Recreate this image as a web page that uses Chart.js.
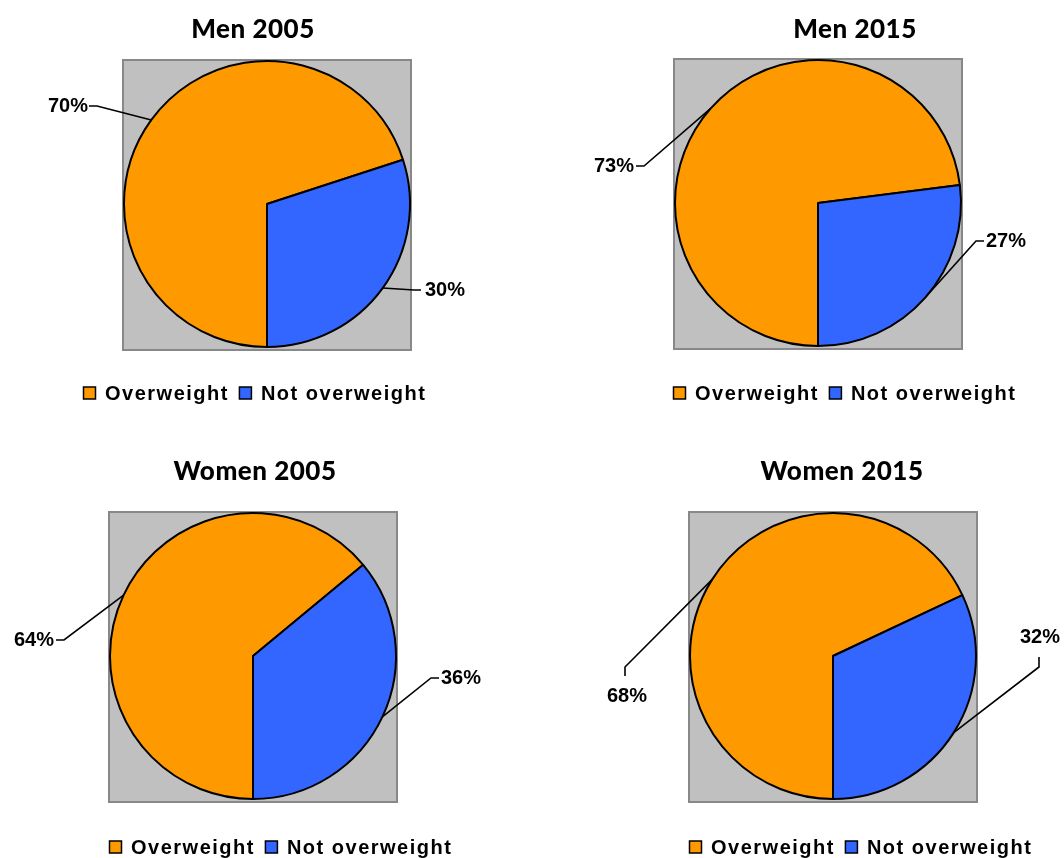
<!DOCTYPE html>
<html><head><meta charset="utf-8">
<script src="https://cdn.jsdelivr.net/npm/chart.js@4"></script>
<style>
html,body{margin:0;padding:0;background:#fff;}
#wrap{position:relative;width:1064px;height:858px;overflow:hidden;}
canvas{position:absolute;}
</style></head><body><div id="wrap">
<canvas id="c0" width="532" height="429" style="left:0;top:0"></canvas>
<canvas id="c1" width="532" height="429" style="left:532px;top:0"></canvas>
<canvas id="c2" width="532" height="429" style="left:0;top:429px"></canvas>
<canvas id="c3" width="532" height="429" style="left:532px;top:429px"></canvas>
</div>
<script>
// ---- data ----
const categories = ['Overweight', 'Not overweight'];
const titles = ['Men 2005', 'Men 2015', 'Women 2005', 'Women 2015'];
const men2005 = [70, 30];
const men2015 = [73, 27];
const women2005 = [64, 36];
const women2015 = [68, 32];
const seriesList = [men2005, men2015, women2005, women2015];

// ---- styles ----
const sliceColors = ['#FF9900', '#3366FF'];
const W = 532, H = 429;

// ---- layout (local canvas coordinates) ----
const layouts = [
  { area:[123,60,411,348], box:[123,60,411,350], title:[253,38], legend:[83,393],
    labels:[ {elbow:[97,106], end:[89,106], text:[88,106], align:'right'},
             {elbow:[414,290], end:[421,290], text:[425,290], align:'left'} ] },
  { area:[142,59,430,347], box:[142,59,430,349], title:[323,38], legend:[141,393],
    labels:[ {elbow:[112,166], end:[104,166], text:[102,166], align:'right'},
             {elbow:[444,241], end:[452,241], text:[454,241], align:'left'} ] },
  { area:[109,83,397,371], box:[109,83,397,373], title:[255,51], legend:[109,418],
    labels:[ {elbow:[64,211], end:[56,211], text:[54,211], align:'right'},
             {elbow:[431,249], end:[439,249], text:[441,249], align:'left'} ] },
  { area:[157,83,445,371], box:[157,83,445,373], title:[310,51], legend:[157,418],
    labels:[ {elbow:[93,238], end:[93,247], text:[95,267], align:'center'},
             {elbow:[507,238], end:[507,228], text:[508,208], align:'center'} ] }
];

function makeDecor(idx) {
  const L = layouts[idx];
  return {
    id: 'decor' + idx,
    beforeDraw(chart) {
      const ctx = chart.ctx;
      ctx.save();
      const [x0,y0,x1,y1] = L.box;
      ctx.fillStyle = '#C0C0C0';
      ctx.fillRect(x0, y0, x1-x0, y1-y0);
      ctx.strokeStyle = '#888888';
      ctx.lineWidth = 2;
      ctx.strokeRect(x0, y0, x1-x0, y1-y0);
      ctx.fillStyle = '#000';
      ctx.font = '900 26px Lato';
      ctx.letterSpacing = '0.5px';
      ctx.textAlign = 'center';
      ctx.textBaseline = 'alphabetic';
      ctx.fillText(titles[idx], L.title[0], L.title[1]);
      ctx.restore();
    },
    afterDatasetsDraw(chart) {
      const ctx = chart.ctx;
      const meta = chart.getDatasetMeta(0);
      const data = chart.data.datasets[0].data;
      ctx.save();
      meta.data.forEach((arc, i) => {
        const p = arc.getProps(['x','y','startAngle','endAngle','outerRadius'], true);
        const mid = (p.startAngle + p.endAngle) / 2;
        const ex = p.x + Math.cos(mid) * p.outerRadius;
        const ey = p.y + Math.sin(mid) * p.outerRadius;
        const lb = L.labels[i];
        ctx.strokeStyle = '#000';
        ctx.lineWidth = 1.6;
        ctx.beginPath();
        ctx.moveTo(ex, ey);
        ctx.lineTo(lb.elbow[0], lb.elbow[1]);
        ctx.lineTo(lb.end[0], lb.end[1]);
        ctx.stroke();
        ctx.fillStyle = '#000';
        ctx.font = 'bold 20px "Liberation Sans", Arial, sans-serif';
        ctx.textAlign = lb.align;
        ctx.textBaseline = 'middle';
        ctx.fillText(data[i] + '%', lb.text[0], lb.text[1]);
      });
      ctx.restore();
    },
    afterDraw(chart) {
      const ctx = chart.ctx;
      ctx.save();
      ctx.font = 'bold 20px "Liberation Sans", Arial, sans-serif';
      ctx.letterSpacing = '1.5px';
      ctx.textAlign = 'left';
      ctx.textBaseline = 'middle';
      let x = L.legend[0];
      const y = L.legend[1];
      categories.forEach((c, i) => {
        ctx.fillStyle = sliceColors[i];
        ctx.fillRect(x + 0.5, y - 6, 12, 12);
        ctx.strokeStyle = '#000';
        ctx.lineWidth = 1.5;
        ctx.strokeRect(x + 0.5, y - 6, 12, 12);
        x += 13 + 9;
        ctx.fillStyle = '#000';
        ctx.fillText(c, x, y + 1);
        x += ctx.measureText(c).width + 10;
      });
      ctx.restore();
    }
  };
}

seriesList.forEach((series, idx) => {
  const L = layouts[idx];
  new Chart(document.getElementById('c' + idx), {
    type: 'pie',
    data: {
      labels: categories,
      datasets: [{
        data: series,
        backgroundColor: sliceColors,
        borderColor: '#000000',
        borderWidth: 2,
        hoverOffset: 0
      }]
    },
    options: {
      responsive: false,
      animation: false,
      events: [],
      rotation: 180,
      layout: { padding: { left: L.area[0], top: L.area[1], right: W - L.area[2], bottom: H - L.area[3] } },
      plugins: { legend: { display: false }, title: { display: false }, tooltip: { enabled: false } }
    },
    plugins: [makeDecor(idx)]
  });
});
</script>
</body></html>
